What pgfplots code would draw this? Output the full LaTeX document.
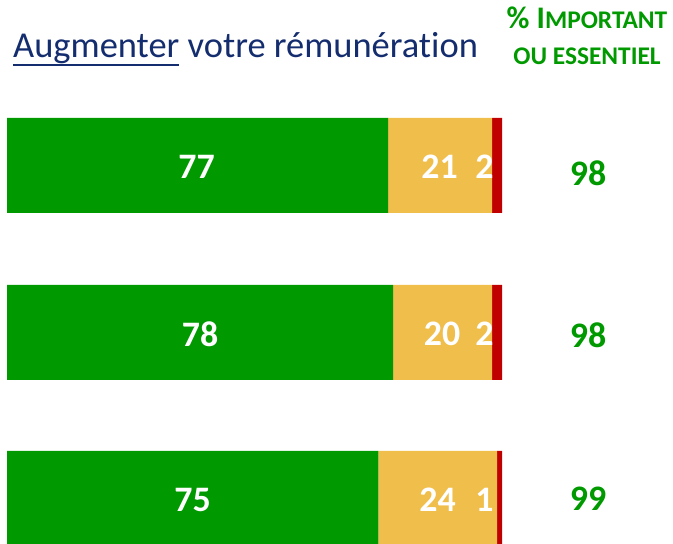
\documentclass[border=0pt]{standalone}
\usepackage{pgfplots}
\pgfplotsset{compat=1.18}
\usepackage{fontspec}
\setmainfont[Ligatures={NoCommon}]{Carlito}
\definecolor{cgreen}{RGB}{0,153,0}
\definecolor{cyellow}{RGB}{240,190,75}
\definecolor{cred}{RGB}{192,0,0}
\definecolor{navy}{RGB}{20,45,110}
\newlength\ulw
\begin{document}
\begin{tikzpicture}
\path[use as bounding box] (0,0) rectangle (673bp,544bp);
\begin{axis}[
  at={(0,0)}, anchor=south west,
  width=673bp, height=544bp, scale only axis,
  xmin=-1.41414, xmax=134.5455, ymin=0, ymax=544,
  hide axis,
  xbar stacked, bar width=95,
]
\addplot[fill=cgreen, draw=none] coordinates {(77,378.5) (78,211.5) (75,45.5)};
\addplot[fill=cyellow, draw=none] coordinates {(21,378.5) (20,211.5) (24,45.5)};
\addplot[fill=cred, draw=none] coordinates {(2,378.5) (2,211.5) (1,45.5)};
\end{axis}
% labels inside bars (positions in bp = pixels)
\begin{scope}[every node/.style={text=white, font=\fontsize{36}{36}\selectfont\bfseries, inner sep=0pt}]
\node at (196.5bp,377bp) {77};
\node at (439.5bp,377bp) {21};
\node at (484.5bp,377bp) {2};
\node at (200bp,210bp) {78};
\node at (442bp,210bp) {20};
\node at (484.5bp,210bp) {2};
\node at (192.5bp,44bp) {75};
\node at (437.5bp,44bp) {24};
\node at (484.5bp,44bp) {1};
\end{scope}
% right column values
\begin{scope}[every node/.style={text=cgreen, font=\fontsize{36}{36}\selectfont\bfseries, inner sep=0pt, anchor=base}]
\node at (588bp,358bp) {98};
\node at (588bp,196.5bp) {98};
\node at (588bp,33.5bp) {99};
\end{scope}
% title
\node[anchor=base west, inner sep=0pt, text=navy, font=\fontsize{36.6}{36.6}\selectfont] at (13bp,486bp) {\settowidth{\ulw}{Augmenter}\rlap{\rule[-8.5bp]{\ulw}{2.2bp}}Augmenter votre rémunération};
% header
\node[anchor=base, inner sep=0pt, text=cgreen, font=\bfseries] at (587bp,515bp) {{\fontsize{31.5}{31.5}\selectfont\% I}{\fontsize{25.5}{25.5}\selectfont MPORTANT}};
\node[anchor=base, inner sep=0pt, text=cgreen, font=\bfseries\fontsize{25.5}{25.5}\selectfont] at (587bp,479bp) {OU ESSENTIEL};
\end{tikzpicture}
\end{document}
